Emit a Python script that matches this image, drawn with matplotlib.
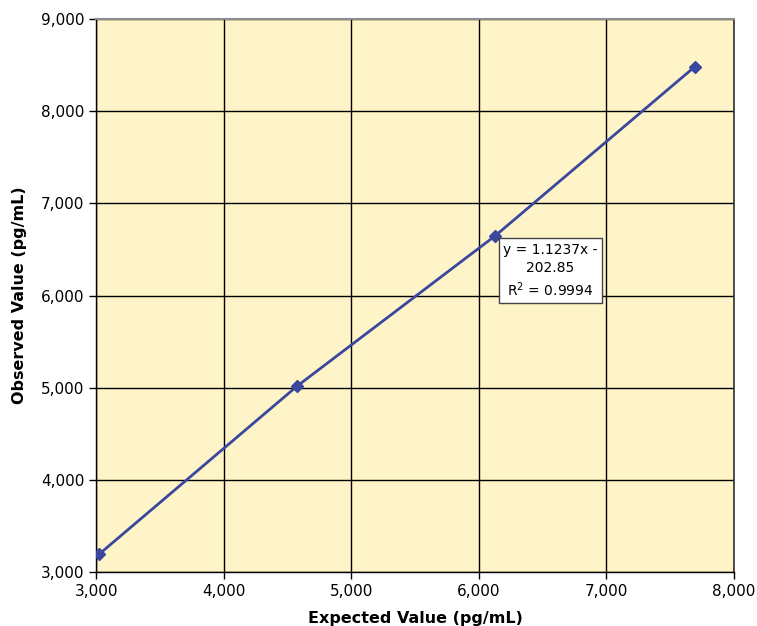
import matplotlib.pyplot as plt
from matplotlib.ticker import FuncFormatter

plt.rcParams['font.family'] = ['DejaVu Sans']

# data
expected = [3025, 4578, 6128, 7690]
observed = [3195, 5020, 6648, 8480]
slope = 1.1237
intercept = -202.85
r2 = 0.9994

xticks = [3000, 4000, 5000, 6000, 7000, 8000]
yticks = [3000, 4000, 5000, 6000, 7000, 8000, 9000]

fig = plt.figure(figsize=(7.57, 6.26), dpi=100)
ax = fig.add_axes([0.127, 0.0863, 0.8427, 0.8833])
ax.set_facecolor('#fef4c8')

ax.plot(expected, observed, color='#3a479e', lw=2, marker='D', ms=6.5,
        zorder=3)

ax.set_xlim(3000, 8000)
ax.set_ylim(3000, 9000)
ax.set_xticks(xticks)
ax.set_yticks(yticks)
fmt = FuncFormatter(lambda v, p: f'{int(v):,}')
ax.xaxis.set_major_formatter(fmt)
ax.yaxis.set_major_formatter(fmt)
ax.grid(True, color='black', lw=1)
ax.set_axisbelow(True)
ax.tick_params(axis='both', labelsize=11, length=5, width=1, color='black')
ax.tick_params(axis='x', pad=4)

ax.spines['top'].set_color('#8c8c8c')
ax.spines['top'].set_linewidth(1.5)
ax.spines['right'].set_color('#333333')
ax.spines['right'].set_linewidth(1.2)
for s in ['left', 'bottom']:
    ax.spines[s].set_color('black')
    ax.spines[s].set_linewidth(1)

ax.set_xlabel('Expected Value (pg/mL)', fontsize=11.5, fontweight='bold', labelpad=8)
ax.set_ylabel('Observed Value (pg/mL)', fontsize=11.5, fontweight='bold', labelpad=10)

ax.text(6560, 6270,
        f'y = {slope}x -\n{abs(intercept)}\nR$^2$ = {r2}',
        fontsize=10, ha='center', va='center', linespacing=1.35,
        bbox=dict(boxstyle='square,pad=0.3', fc='white', ec='#444444', lw=1),
        zorder=5)

fig.savefig('out.png', dpi=100)
